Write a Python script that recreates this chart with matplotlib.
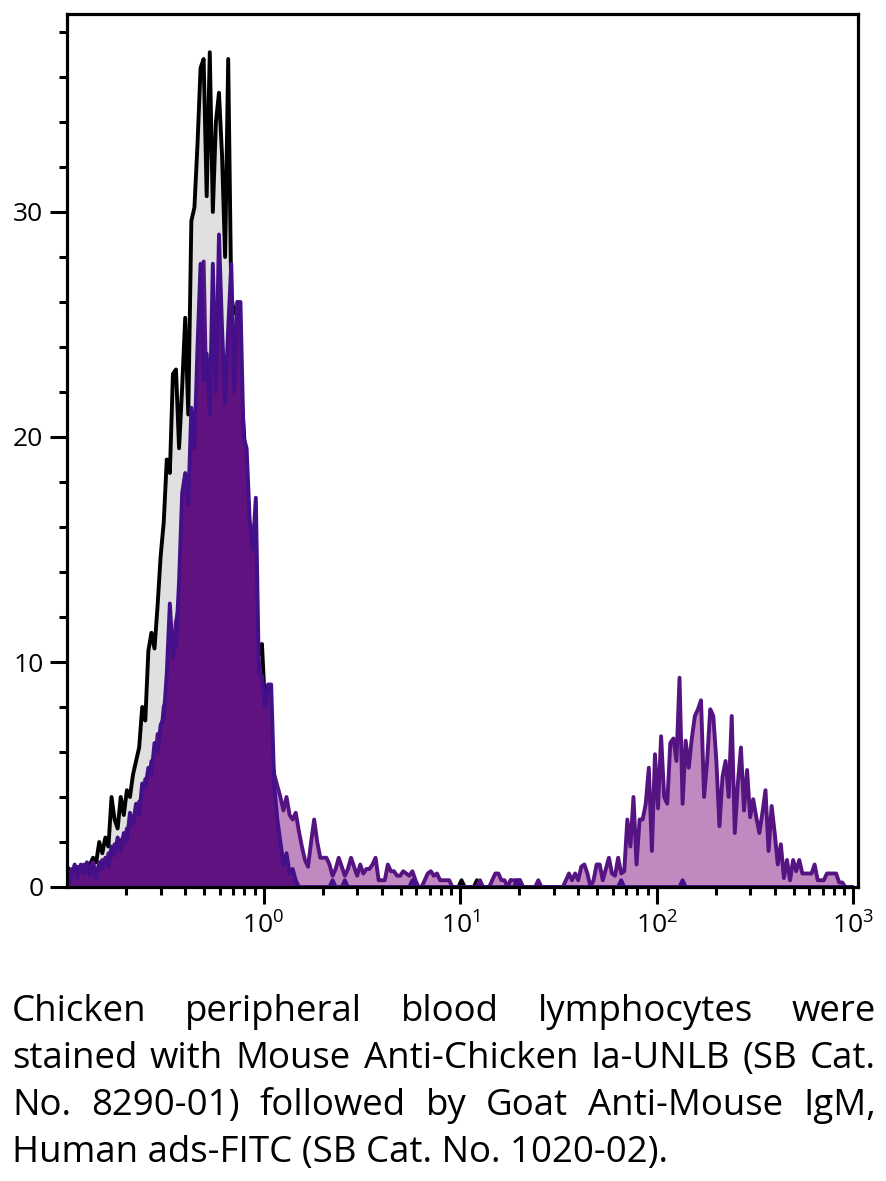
import numpy as np
import matplotlib
matplotlib.use("Agg")
import matplotlib.pyplot as plt
from matplotlib import ticker

FONT = "Open Sans"
plt.rcParams["font.family"] = [FONT, "DejaVu Sans"]
plt.rcParams["mathtext.default"] = "regular"

# ---------------- data (counts per log channel, 256 channels over 10^-1 .. 10^3) -------------
n_channels = 256
log_min, log_max = -1.0, 3.0

# unstained / negative control (grey fill, black line), channels 0..69
control_start = 0
control_counts = [0.8, 0.3, 0.6, 0.2, 0.5, 0.8, 0.4, 1.0, 1.3, 1.1,
                  2.0, 1.5, 2.2, 1.8, 4.0, 3.0, 2.6, 4.0, 3.2, 4.3,
                  4.0, 5.0, 5.6, 6.2, 8.0, 7.4, 10.5, 11.3, 10.6, 12.5,
                  14.7, 16.2, 19.0, 18.4, 22.8, 23.0, 19.5, 22.2, 25.3, 21.0,
                  29.6, 30.2, 33.0, 36.4, 36.8, 30.7, 37.1, 30.0, 34.0, 35.3,
                  32.5, 28.0, 36.8, 26.2, 25.5, 25.8, 22.5, 20.5, 18.0, 15.5,
                  13.0, 11.0, 10.3, 10.8, 8.0, 5.5, 3.5, 2.0, 1.0, 0.4]
control_sparse_channels = [91, 128, 133, 144, 147]
control_sparse_counts = [0.4, 0.3, 0.3, 0.3, 0.3]

# secondary-only control (dark purple fill), channels 0..74
dark_start = 0
dark_counts = [0.0, 0.5, 1.0, 0.4, 1.0, 0.6, 1.1, 0.5, 0.9, 0.4,
               1.1, 0.8, 1.3, 0.9, 1.8, 1.4, 2.2, 1.6, 2.4, 2.0,
               3.3, 2.8, 3.7, 3.2, 4.6, 4.4, 5.3, 5.0, 6.4, 6.0,
               7.2, 7.5, 9.5, 12.6, 10.2, 10.8, 13.6, 17.5, 18.4, 17.0,
               21.3, 19.5, 24.0, 27.7, 22.5, 23.7, 21.0, 27.7, 22.0, 29.0,
               24.8, 21.5, 24.8, 27.7, 22.0, 26.0, 26.0, 20.0, 19.5, 16.3,
               15.0, 17.3, 9.5, 9.4, 8.0, 9.0, 9.0, 4.5, 3.0, 2.0,
               1.0, 1.5, 0.6, 0.8, 0.3]
dark_sparse_channels = [86, 90, 112, 146, 180, 200]
dark_sparse_counts = [0.3, 0.3, 0.3, 0.3, 0.3, 0.3]

# stained sample (lilac fill), negative population, channels 0..67
stained_neg_start = 0
stained_neg_counts = [0.3, 0.8, 0.4, 0.9, 0.3, 1.0, 0.5, 0.8, 1.1, 0.6,
                      0.9, 1.2, 0.8, 1.5, 1.2, 1.9, 1.5, 2.1, 1.8, 2.6,
                      2.4, 3.1, 2.9, 3.8, 3.5, 4.8, 4.5, 5.6, 5.2, 6.8,
                      6.5, 8.0, 8.4, 9.5, 10.5, 11.8, 12.5, 14.5, 15.0, 17.5,
                      18.0, 20.5, 19.0, 22.0, 27.8, 21.0, 23.0, 20.0, 24.5, 21.5,
                      23.0, 20.5, 22.0, 19.5, 21.0, 26.0, 20.0, 18.0, 16.5, 14.0,
                      13.0, 11.0, 10.0, 8.5, 7.5, 7.0, 6.0, 5.0]
# stained sample tail + positive population, channels 68..253
stained_pos_start = 68
stained_pos_counts = [4.5, 4.0, 3.4, 4.0, 3.2, 3.0, 3.3, 2.5, 1.8, 1.2,
                      0.9, 2.0, 3.0, 2.0, 1.3, 1.3, 1.3, 1.0, 0.5, 0.8,
                      1.3, 0.9, 0.5, 0.8, 1.3, 0.9, 0.5, 1.0, 0.6, 0.8,
                      0.8, 1.0, 1.3, 0.3, 0.3, 0.3, 1.0, 0.7, 0.7, 0.5,
                      0.5, 0.7, 0.6, 0.5, 0.7, 0.3, 0.0, 0.0, 0.3, 0.6,
                      0.7, 0.5, 0.6, 0.3, 0.3, 0.3, 0.3, 0.0, 0.0, 0.0,
                      0.0, 0.0, 0.0, 0.0, 0.0, 0.0, 0.3, 0.0, 0.0, 0.0,
                      0.3, 0.6, 0.6, 0.3, 0.3, 0.0, 0.3, 0.3, 0.3, 0.3,
                      0.0, 0.0, 0.0, 0.0, 0.0, 0.3, 0.0, 0.0, 0.0, 0.0,
                      0.0, 0.0, 0.0, 0.0, 0.3, 0.6, 0.3, 0.6, 0.3, 0.9,
                      1.0, 0.6, 0.0, 0.3, 1.0, 1.0, 0.3, 0.8, 1.3, 0.6,
                      0.5, 1.3, 0.6, 0.7, 3.0, 1.8, 4.0, 1.0, 3.0, 3.0,
                      3.7, 5.3, 1.6, 5.9, 3.5, 6.7, 4.0, 3.7, 6.4, 6.6,
                      5.6, 9.3, 3.7, 6.5, 5.3, 6.6, 7.6, 7.9, 8.3, 4.0,
                      5.6, 7.9, 7.6, 5.6, 2.7, 4.9, 5.6, 4.0, 7.6, 2.4,
                      4.6, 6.2, 3.4, 5.2, 3.1, 3.9, 3.1, 2.4, 3.3, 4.3,
                      1.6, 3.6, 2.4, 1.0, 1.9, 0.4, 1.2, 0.3, 1.2, 0.7,
                      1.2, 0.6, 0.6, 0.6, 0.6, 1.0, 0.3, 0.3, 0.3, 0.6,
                      0.6, 0.6, 0.6, 0.2, 0.2, 0.0]

y_major_ticks = [0, 10, 20, 30]
x_major_ticks = [1, 10, 100, 1000]

caption_lines = ["Chicken peripheral blood lymphocytes were",
                 "stained with Mouse Anti-Chicken Ia-UNLB (SB Cat.",
                 "No. 8290-01) followed by Goat Anti-Mouse IgM,",
                 "Human ads-FITC (SB Cat. No. 1020-02)."]

# ---------------- build series ----------------
def assemble(segments, sparse=None):
    arr = np.zeros(n_channels)
    for start, seg in segments:
        arr[start:start + len(seg)] = seg
    if sparse is not None:
        for c, v in zip(*sparse):
            arr[c] = v
    return arr

channels = np.arange(n_channels)
x = 10 ** (log_min + (channels + 0.5) * (log_max - log_min) / n_channels)
ctrl = assemble([(control_start, control_counts)], (control_sparse_channels, control_sparse_counts))
dark = assemble([(dark_start, dark_counts)], (dark_sparse_channels, dark_sparse_counts))
stained = assemble([(stained_neg_start, stained_neg_counts), (stained_pos_start, stained_pos_counts)])

# ---------------- figure ----------------
W, H = 886, 1181
fig = plt.figure(figsize=(W / 100, H / 100), dpi=100)
L, R, T, B = 67, 858, 14, 887
ax = fig.add_axes([L / W, 1 - B / H, (R - L) / W, (B - T) / H])

lw = 2.8
ax.fill_between(x, 0, ctrl, color="#e0e0e0", lw=0, zorder=1)
ax.plot(x, ctrl, color="black", lw=lw, zorder=1.1)
ax.fill_between(x, 0, stained, color="#c089c0", lw=0, zorder=1.2)
ax.plot(x, stained, color="#551482", lw=lw, zorder=1.3)
ax.fill_between(x, 0, dark, color="#5f1280", lw=0, zorder=1.4)
ax.plot(x, dark, color="#43108a", lw=lw, zorder=1.5)

ax.set_xscale("log")
ax.set_xlim(0.1, 10 ** ((R - L) / 196.5 - 1))
ax.set_ylim(0, (B - T) / 22.5)

ax.xaxis.set_major_locator(ticker.FixedLocator(x_major_ticks))
ax.xaxis.set_minor_locator(ticker.LogLocator(base=10, subs=np.arange(2, 10)))
ax.xaxis.set_minor_formatter(ticker.NullFormatter())
ax.xaxis.set_major_formatter(ticker.LogFormatterSciNotation())
ax.yaxis.set_major_locator(ticker.FixedLocator(y_major_ticks))
ax.yaxis.set_minor_locator(ticker.MultipleLocator(2))

for s in ax.spines.values():
    s.set_linewidth(2.3)
    s.set_zorder(3)
ax.tick_params(which="major", length=12, width=2.2, labelsize=19, pad=5, color="black")
ax.tick_params(axis="x", which="major", pad=6)
ax.tick_params(which="minor", length=5.5, width=2.2, color="black")

# ---------------- justified caption ----------------
fig.canvas.draw()
renderer = fig.canvas.get_renderer()

def width_px(s, size):
    t = fig.text(0, 0, s, fontsize=size, family=FONT)
    w = t.get_window_extent(renderer).width
    t.remove()
    return w

left_px, right_px = 12, 876
target_last = 656
size = 30 * target_last / width_px(caption_lines[-1], 30)
size = min(size, 30 * (right_px - left_px) / width_px(caption_lines[1], 30))
baselines = [1021, 1068, 1115, 1162]

for k, line in enumerate(caption_lines):
    yb = 1 - baselines[k] / H
    words = line.split(" ")
    if k == len(caption_lines) - 1:
        fig.text(left_px / W, yb, line, fontsize=size, family=FONT, va="baseline", ha="left")
        continue
    ws = [width_px(w_, size) for w_ in words]
    gap = (right_px - left_px - sum(ws)) / (len(words) - 1)
    xp = left_px
    for w_, wd in zip(words, ws):
        fig.text(xp / W, yb, w_, fontsize=size, family=FONT, va="baseline", ha="left")
        xp += wd + gap

fig.savefig("out.png", dpi=100)
